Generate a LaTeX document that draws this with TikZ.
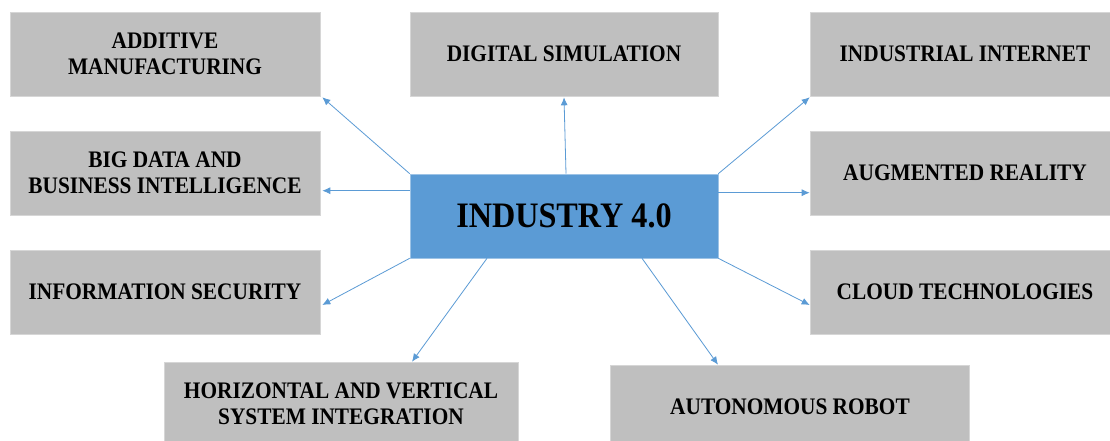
\documentclass[tikz,border=0pt]{standalone}
\usepackage{fontspec}
\setmainfont[FakeStretch=0.9]{Liberation Serif}
\usetikzlibrary{arrows.meta,calc}
\definecolor{boxgrey}{HTML}{BFBFBF}
\definecolor{boxedge}{HTML}{D6D6D6}
\definecolor{hubblue}{HTML}{5B9BD5}
\definecolor{hubedge}{HTML}{9DC3E6}
\begin{document}
\begin{tikzpicture}[x=1pt,y=-1pt,
  topic/.style={rectangle, fill=boxgrey, draw=boxedge, line width=0.6pt, inner sep=0pt,
    minimum width=310pt, minimum height=84pt, align=center,
    font=\fontsize{23.7}{26}\selectfont\bfseries},
  hub/.style={rectangle, fill=hubblue, draw=hubedge, line width=0.6pt, inner sep=0pt,
    minimum width=308pt, minimum height=84pt,
    font=\fontsize{35.8}{38}\selectfont\bfseries},
  arr/.style={draw=hubblue, line width=0.8pt, -{Latex[length=8pt,width=7pt]}}]
\clip (0,0) rectangle (1110,441);
\fill[white] (0,0) rectangle (1110,441);
% nodes
\node[topic] (am) at (165,54) {ADDITIVE\\MANUFACTURING};
\node[topic, minimum width=308pt] (ds) at (564,54) {DIGITAL SIMULATION};
\node[topic] (ii) at (965,54) {INDUSTRIAL INTERNET};
\node[topic] (bd) at (165,173) {BIG DATA AND\\BUSINESS INTELLIGENCE};
\node[hub] (c) at (564,216) {INDUSTRY 4.0};
\node[topic] (ar) at (965,173) {AUGMENTED REALITY};
\node[topic] (is) at (165,292) {INFORMATION SECURITY};
\node[topic] (ct) at (965,292) {CLOUD TECHNOLOGIES};
\node[topic, minimum width=354pt] (hv) at (341,404) {HORIZONTAL AND VERTICAL\\SYSTEM INTEGRATION};
\node[topic, minimum width=359pt] (rb) at (790,407) {AUTONOMOUS ROBOT};
% connectors
\draw[arr] (c.north west) -- ([shift={(2pt,-1pt)}]am.south east);
\draw[arr] ([xshift=2pt]c.north) -- ([yshift=-1pt]ds.south);
\draw[arr] (c.north east) -- ([yshift=-1pt]ii.south west);
\draw[arr] ([yshift=-17pt]c.north west) -- ([yshift=-17pt,xshift=2pt]c.north west -| bd.east);
\draw[arr] ([yshift=-19pt]c.north east) -- ([yshift=-19pt]c.north east -| ar.west);
\draw[arr] (c.south west) -- ([shift={(2pt,-13pt)}]is.east);
\draw[arr] (c.south east) -- ([yshift=-13pt]ct.west);
\draw[arr] ([xshift=-77pt]c.south) -- ([xshift=71pt]hv.north);
\draw[arr] ([xshift=78pt]c.south) -- ([xshift=-72pt]rb.north);
\end{tikzpicture}
\end{document}
